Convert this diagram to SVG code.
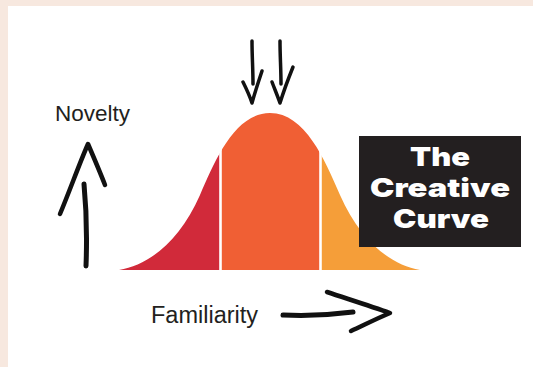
<svg xmlns="http://www.w3.org/2000/svg" width="533" height="367" viewBox="0 0 533 367">
  <style>
    .label { font-family: "Liberation Sans", Arial, sans-serif; fill: #231f20; }
    .title { font-family: Inter, Roboto, "DejaVu Sans", sans-serif; font-weight: 900; fill: #ffffff; font-size: 26px; text-anchor: middle; }
    .ink { fill: none; stroke: #111111; stroke-linecap: round; stroke-linejoin: round; }
    .gap { stroke: #ffffff; stroke-width: 2.6; }
  </style>
  <defs>
    <clipPath id="bell">
      <path d="M119,270 C150,265 180,240 200,195 C215,160 235,113 270,113 C305,113 325,160 340,195 C360,240 390,265 420,270 Z"/>
    </clipPath>
  </defs>

  <!-- background -->
  <rect x="0" y="0" width="533" height="367" fill="#f7e8df"/>
  <rect x="8" y="6" width="525" height="361" fill="#ffffff"/>

  <g id="curve">
    <g clip-path="url(#bell)">
      <rect x="110" y="100" width="111" height="175" fill="#d12a3a"/>
      <rect x="221" y="100" width="100" height="175" fill="#f05f34"/>
      <rect x="321" y="100" width="110" height="175" fill="#f59e39"/>
    </g>
    <line class="gap" x1="220.5" y1="100" x2="220.5" y2="272"/>
    <line class="gap" x1="320.5" y1="100" x2="320.5" y2="272"/>
  </g>

  <g id="novelty-label">
    <text class="label" x="55" y="121" font-size="22.5">Novelty</text>
  </g>

  <g id="familiarity-label">
    <text class="label" x="151" y="323" font-size="23.5">Familiarity</text>
  </g>

  <g id="title-box">
    <rect x="359" y="136" width="162" height="111" fill="#231f20"/>
    <text class="title" x="440" y="166" textLength="60" lengthAdjust="spacingAndGlyphs">The</text>
    <text class="title" x="440" y="197" textLength="140" lengthAdjust="spacingAndGlyphs">Creative</text>
    <text class="title" x="441" y="228" textLength="96" lengthAdjust="spacingAndGlyphs">Curve</text>
  </g>

  <g id="connectors">
    <!-- up arrow (Novelty) -->
    <path class="ink" stroke-width="5" d="M86,266 C87,240 86,205 84,184"/>
    <path class="ink" stroke-width="4.5" d="M60,214 C70,190 80,162 88,144 C94,158 100,172 105,185"/>
    <!-- down arrows -->
    <path class="ink" stroke-width="3.5" d="M252,41 C252,55 253,70 253,84"/>
    <path class="ink" stroke-width="3.5" d="M243,82 C247,90 250,97 252,103 C255,92 259,80 262,71"/>
    <path class="ink" stroke-width="3.5" d="M280,41 C280,55 281,70 281,84"/>
    <path class="ink" stroke-width="3.5" d="M272,82 C275,90 278,97 280,103 C284,90 289,77 293,67"/>
    <!-- right arrow (Familiarity) -->
    <path class="ink" stroke-width="5" d="M283,315 C305,316 330,315 353,312"/>
    <path class="ink" stroke-width="4.5" d="M327,292 C348,299 370,306 390,313 C378,318 364,325 351,331"/>
  </g>
</svg>
